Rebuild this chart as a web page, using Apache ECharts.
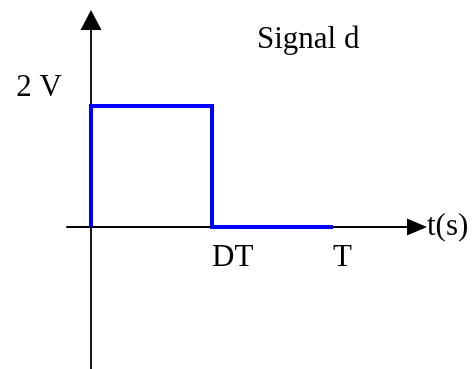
<!DOCTYPE html>
<html>
<head>
<meta charset="utf-8">
<script src="https://cdn.jsdelivr.net/npm/echarts@6/dist/echarts.min.js"></script>
<style>
  html, body { margin: 0; padding: 0; background: #fff; }
  #chart { width: 473px; height: 369px; }
</style>
</head>
<body>
<div id="chart"></div>
<script>
// Square pulse: high (2 V) from 0 to DT, then low until T
var time = [0, 0, 1, 1, 2];          // in units of DT (T = 2·DT)
var volts = [0, 2, 2, 0, 0];

var xTickValues = [1, 2];
var xTickLabels = ['DT', 'T'];
var yTickValues = [2];
var yTickLabels = ['2 V'];

var serif = "'Liberation Serif', 'Times New Roman', serif";
var fontSize = 31;

// plot frame in pixels; the axes cross at t = 0, v = 0 inside it
var gridLeft = 67, gridRight = 417, gridTop = 20, gridBottom = 369;
var xMin = -0.1983, xMax = 2.694;
var yMin = -2.347, yMax = 3.4215;
// pixel position of the zero lines, used to shift each axis onto the other's zero
var zeroX = gridLeft + (0 - xMin) / (xMax - xMin) * (gridRight - gridLeft);
var zeroY = gridBottom - (0 - yMin) / (yMax - yMin) * (gridBottom - gridTop);

var chart = echarts.init(document.getElementById('chart'), null, { renderer: 'canvas' });

chart.setOption({
  animation: false,
  backgroundColor: '#ffffff',
  title: {
    text: 'Signal d',
    left: 257,
    top: 24,
    padding: 0,
    textStyle: { fontFamily: serif, fontWeight: 'normal', fontSize: fontSize, color: '#000' }
  },
  grid: {
    left: gridLeft, right: 473 - gridRight, top: gridTop, bottom: 369 - gridBottom,
    containLabel: false,
    outerBoundsMode: 'none'
  },
  xAxis: {
    type: 'value',
    min: xMin,
    max: xMax,
    position: 'bottom',
    offset: -(gridBottom - zeroY),
    name: 't(s)',
    nameLocation: 'end',
    nameGap: 10,
    nameTextStyle: { fontFamily: serif, fontSize: fontSize, color: '#000', align: 'left', verticalAlign: 'middle', padding: [8, 0, 0, 0] },
    axisLine: {
      show: true,
      onZero: false,
      symbol: ['none', 'triangle'],
      symbolSize: [17, 20],
      lineStyle: { color: '#000', width: 1.8 }
    },
    axisTick: { show: false },
    splitLine: { show: false },
    axisLabel: {
      customValues: xTickValues,
      formatter: function (v) { return xTickLabels[xTickValues.indexOf(v)]; },
      align: 'left',
      margin: 15,
      fontFamily: serif,
      fontSize: fontSize,
      color: '#000'
    }
  },
  yAxis: {
    type: 'value',
    min: yMin,
    max: yMax,
    position: 'left',
    offset: -(zeroX - gridLeft),
    axisLine: {
      show: true,
      onZero: false,
      symbol: ['none', 'triangle'],
      symbolSize: [21, 20],
      lineStyle: { color: '#000', width: 1.8 }
    },
    axisTick: { show: false },
    splitLine: { show: false },
    axisLabel: {
      customValues: yTickValues,
      formatter: function (v) { return yTickLabels[yTickValues.indexOf(v)]; },
      margin: 29,
      verticalAlign: 'bottom',
      padding: [0, 0, 3, 0],
      fontFamily: serif,
      fontSize: fontSize,
      color: '#000'
    }
  },
  series: [{
    type: 'line',
    data: time.map(function (t, i) { return [t, volts[i]]; }),
    showSymbol: false,
    symbol: 'none',
    z: 5,
    lineStyle: { color: '#0000ff', width: 4, join: 'miter', cap: 'butt' }
  }]
});
</script>
</body>
</html>
